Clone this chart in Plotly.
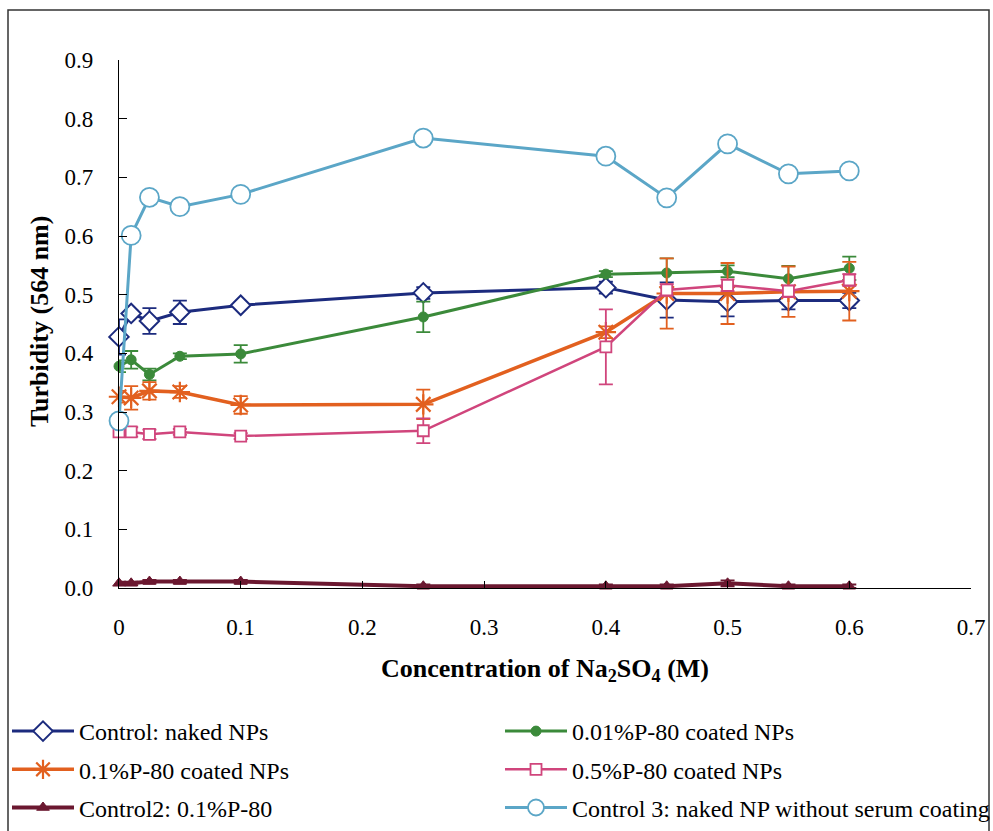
import plotly.graph_objects as go

# ---- data ----
conc = [0, 0.01, 0.025, 0.05, 0.1, 0.25, 0.4, 0.45, 0.5, 0.55, 0.6]

naked = [0.428, 0.468, 0.455, 0.470, 0.482, 0.503, 0.512, 0.491, 0.488, 0.490, 0.490]
naked_err = [0.03, 0.005, 0.022, 0.02, 0.005, 0.01, 0.01, 0.03, 0.025, 0.015, 0.013]

p001 = [0.378, 0.389, 0.364, 0.395, 0.399, 0.462, 0.535, 0.537, 0.540, 0.527, 0.545]
p001_err = [0.01, 0.015, 0.01, 0.005, 0.015, 0.026, 0.005, 0.025, 0.01, 0.022, 0.02]

p01 = [0.326, 0.324, 0.336, 0.334, 0.312, 0.313, 0.436, 0.502, 0.502, 0.505, 0.506]
p01_err = [0.01, 0.02, 0.015, 0.01, 0.015, 0.025, 0.01, 0.06, 0.052, 0.043, 0.05]

p05 = [0.266, 0.266, 0.262, 0.266, 0.259, 0.268, 0.411, 0.508, 0.516, 0.506, 0.525]
p05_err = [0.005, 0.008, 0.008, 0.005, 0.005, 0.021, 0.064, 0.01, 0.01, 0.01, 0.01]

ctrl2 = [0.008, 0.008, 0.011, 0.011, 0.011, 0.003, 0.003, 0.003, 0.008, 0.003, 0.003]
ctrl2_err = [0.003, 0.003, 0.003, 0.003, 0.003, 0.003, 0.003, 0.003, 0.005, 0.003, 0.003]

ctrl3 = [0.285, 0.601, 0.666, 0.650, 0.671, 0.767, 0.736, 0.665, 0.757, 0.706, 0.711]

names = ["Control: naked NPs", "0.01%P-80 coated NPs", "0.1%P-80 coated NPs",
         "0.5%P-80 coated NPs", "Control2: 0.1%P-80", "Control 3: naked NP without serum coating"]

x_ticks = [0, 0.1, 0.2, 0.3, 0.4, 0.5, 0.6, 0.7]
x_ticklabels = ["0", "0.1", "0.2", "0.3", "0.4", "0.5", "0.6", "0.7"]
y_ticks = [0, 0.1, 0.2, 0.3, 0.4, 0.5, 0.6, 0.7, 0.8, 0.9]

FONT = "Liberation Serif, Times New Roman, serif"

C_NAVY = "#1c2b7e"
C_GREEN = "#3b8a3a"
C_ORANGE = "#e2601f"
C_PINK = "#d0457c"
C_MAROON = "#6b1830"
C_CYAN = "#5ba6c7"

fig = go.Figure()

def add(y, err, name, color, symbol, size, lw, mlw, fill, legend, group):
    fig.add_trace(go.Scatter(
        x=conc, y=y, name=name, mode="lines+markers",
        line=dict(color=color, width=lw),
        marker=dict(symbol=symbol, size=size, color=fill,
                    line=dict(color=color, width=mlw)),
        error_y=(dict(type="data", array=err, visible=True, color=color,
                      thickness=1.8, width=7) if err is not None else None),
        cliponaxis=False, legend=legend, legendgroup=group,
    ))

add(naked, naked_err, names[0], C_NAVY, "diamond", 15, 3, 2, "white", "legend", "g0")
add(p001, p001_err, names[1], C_GREEN, "circle", 10, 3, 1, C_GREEN, "legend2", "g1")
add(p01, p01_err, names[2], C_ORANGE, "asterisk-open", 17, 3.5, 2.2, C_ORANGE, "legend", "g2")
add(p05, p05_err, names[3], C_PINK, "square", 11, 2.5, 1.8, "white", "legend2", "g3")
add(ctrl2, ctrl2_err, names[4], C_MAROON, "triangle-up", 11, 4, 1, C_MAROON, "legend", "g4")
add(ctrl3, None, names[5], C_CYAN, "circle", 19, 3, 1.8, "white", "legend2", "g5")

W, H = 993, 831
L, R, T, B = 119, 22, 60, 243
pw = W - L - R
ph = H - T - B

def px2x(p):
    return (p - L) / pw

def py2y(p):
    return (H - B - p) / ph

leg_common = dict(
    orientation="v", yanchor="top", xanchor="left",
    font=dict(family=FONT, size=24, color="black"),
    itemwidth=62, bgcolor="rgba(0,0,0,0)", traceorder="grouped",
    tracegroupgap=4,
)

fig.update_layout(
    width=W, height=H,
    margin=dict(l=L, r=R, t=T, b=B, autoexpand=False),
    paper_bgcolor="white", plot_bgcolor="white",
    font=dict(family=FONT, color="black", size=22),
    showlegend=True,
    legend=dict(x=px2x(7), y=py2y(709), **leg_common),
    legend2=dict(x=px2x(500), y=py2y(709), **leg_common),
    xaxis=dict(
        range=[0, 0.7], tickvals=x_ticks, ticktext=x_ticklabels,
        showgrid=False, zeroline=False, showline=True, linecolor="black", linewidth=1.2,
        ticks="inside", ticklen=7, tickcolor="black", tickwidth=1,
        tickfont=dict(family=FONT, size=23, color="black"),
        ticklabelstandoff=18,
    ),
    yaxis=dict(
        range=[0, 0.9], tickvals=y_ticks, tickformat=".1f",
        showgrid=False, zeroline=False, showline=True, linecolor="black", linewidth=1.2,
        ticks="inside", ticklen=8, tickcolor="black", tickwidth=1,
        tickfont=dict(family=FONT, size=23, color="black"),
        ticklabelstandoff=20,
    ),
    annotations=[
        dict(text="<b>Turbidity (564 nm)</b>", xref="paper", yref="paper",
             x=px2x(39), y=py2y(322), xanchor="center", yanchor="middle",
             textangle=-90, showarrow=False,
             font=dict(family=FONT, size=26, color="black")),
        dict(text="<b>Concentration of Na<sub>2</sub>SO<sub>4</sub> (M)</b>",
             xref="paper", yref="paper",
             x=px2x(545), y=py2y(670), xanchor="center", yanchor="middle",
             showarrow=False, font=dict(family=FONT, size=26, color="black")),
    ],
    shapes=[
        dict(type="rect", xref="paper", yref="paper",
             x0=px2x(8), x1=px2x(989), y0=py2y(10), y1=py2y(845),
             line=dict(color="#333333", width=1.5), fillcolor="rgba(0,0,0,0)",
             layer="below"),
    ],
)

fig.write_html("out.html")
